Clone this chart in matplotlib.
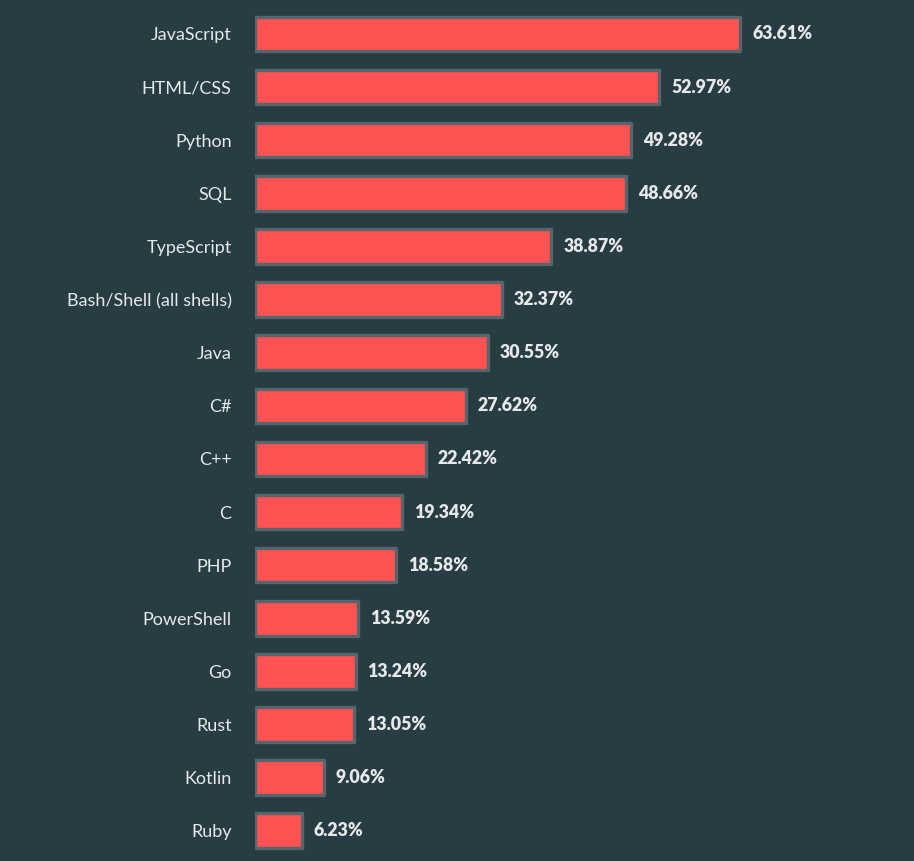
import matplotlib
matplotlib.use("Agg")
import matplotlib.pyplot as plt

languages = ["JavaScript", "HTML/CSS", "Python", "SQL", "TypeScript",
             "Bash/Shell (all shells)", "Java", "C#", "C++", "C", "PHP",
             "PowerShell", "Go", "Rust", "Kotlin", "Ruby"]
percent = [63.61, 52.97, 49.28, 48.66, 38.87, 32.37, 30.55, 27.62, 22.42,
           19.34, 18.58, 13.59, 13.24, 13.05, 9.06, 6.23]

BG = "#283c44"
BAR = "#ff5252"
EDGE = "#56666c"
TXT = "#e6e8ea"

fig = plt.figure(figsize=(9.14, 8.61), dpi=100, facecolor=BG)
ax = fig.add_axes([254.5 / 914, 0, 1 - 254.5 / 914, 1])
ax.set_facecolor(BG)

ypos = list(range(len(languages)))
bars = ax.barh(ypos, percent, height=0.65, color=BAR, edgecolor=EDGE,
               linewidth=2.4)
for b in bars:
    b.set_joinstyle("round")

ax.set_xlim(0, (914 - 254.5) / 7.64)
ax.set_ylim(15.57, -0.64)

ax.set_yticks(ypos)
ax.set_yticklabels(languages, fontsize=13, color=TXT, family=["Lato", "DejaVu Sans"])
ax.tick_params(axis="y", length=0, pad=16.5)
ax.set_xticks([])
for s in ax.spines.values():
    s.set_visible(False)

for y, v in zip(ypos, percent):
    ax.annotate(f"{v:.2f}%", xy=(v, y), xytext=(8.5, 0), textcoords="offset points",
                va="center", ha="left", fontsize=12.8, fontweight="heavy",
                color=TXT, family=["Lato", "DejaVu Sans"])

fig.savefig("out.png", dpi=100, facecolor=BG)
